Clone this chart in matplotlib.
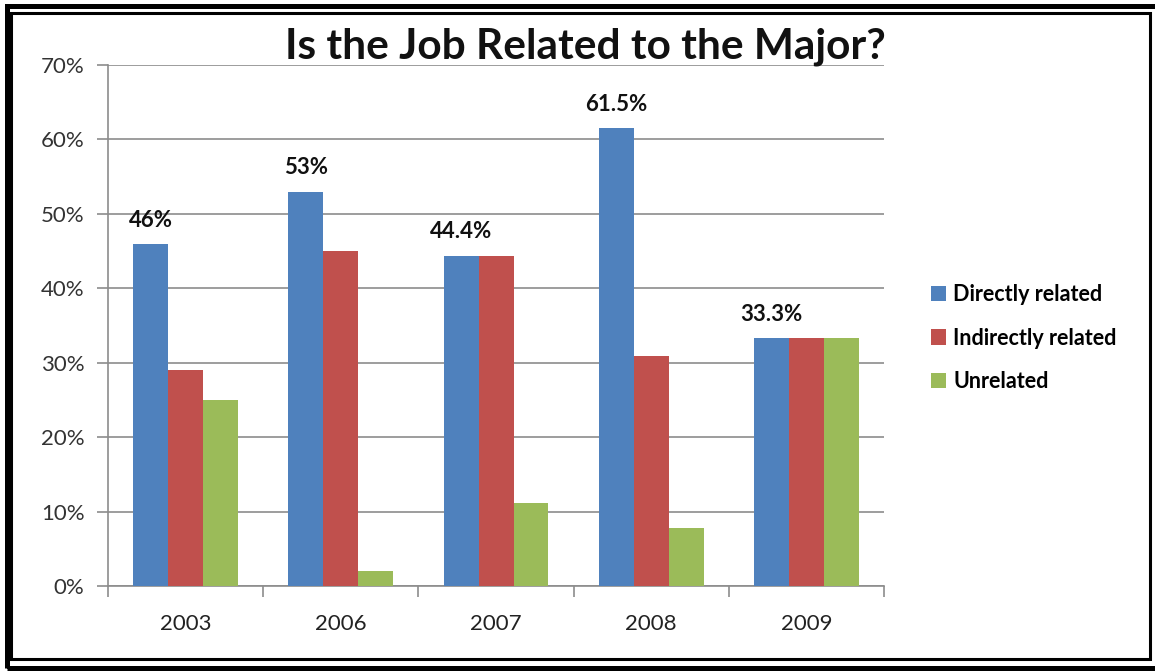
import matplotlib.pyplot as plt
import numpy as np
from matplotlib.patches import Rectangle

years = ["2003", "2006", "2007", "2008", "2009"]
direct = [46, 53, 44.4, 61.5, 33.3]
indirect = [29, 45, 44.4, 30.9, 33.3]
unrelated = [25, 2, 11.2, 7.8, 33.3]
direct_labels = ["46%", "53%", "44.4%", "61.5%", "33.3%"]
series_names = ["Directly related", "Indirectly related", "Unrelated"]

colors = ["#4F81BD", "#C0504D", "#9BBB59"]
plt.rcParams['font.family'] = ['Lato', 'DejaVu Sans']

fig = plt.figure(figsize=(11.55, 6.71), dpi=100)
ax = fig.add_axes([0.0935, 0.1267, 0.672, 0.7764])

x = np.arange(len(years))
w = 0.225
for i, vals in enumerate([direct, indirect, unrelated]):
    ax.bar(x + (i - 1) * w, vals, w, color=colors[i], label=series_names[i], zorder=3)

# labels above the directly related bars
for xi, v, lab in zip(x, direct, direct_labels):
    ax.annotate(lab, (xi - w, v), xytext=(0, 17), textcoords="offset points",
                ha="center", va="center", fontsize=16, fontweight="bold", color="#111111")

ax.set_xlim(-0.5, len(years) - 0.5)
ax.set_ylim(0, 70)
ax.set_yticks(np.arange(0, 71, 10))
ax.set_yticklabels([f"{t}%" for t in range(0, 71, 10)])
ax.yaxis.grid(True, color="#8c8c8c", linewidth=1.2, zorder=0)
ax.set_xticks(x)
ax.set_xticklabels(years)
ax.set_xticks(np.arange(-0.5, len(years), 1), minor=True)
ax.tick_params(axis="x", which="major", length=0, pad=20, labelsize=16, colors="#222222")
ax.tick_params(axis="x", which="minor", length=8, color="#8c8c8c", width=1.2)
ax.tick_params(axis="y", length=8, color="#8c8c8c", width=1.2, labelsize=16, labelcolor="#333333", pad=9)
for s in ["top", "right"]:
    ax.spines[s].set_visible(False)
for s in ["left", "bottom"]:
    ax.spines[s].set_color("#8c8c8c")
    ax.spines[s].set_linewidth(1.2)

fig.text(0.507, 0.93, "Is the Job Related to the Major?", ha="center", va="center",
         fontsize=30.5, fontweight="bold", color="#111111")

ax.legend(loc="center left", bbox_to_anchor=(1.035, 0.476), frameon=False,
          prop={"size": 15.5, "weight": "bold"},
          handlelength=0.7, handleheight=0.7, handletextpad=0.35, labelspacing=1.05)

# double frame around the picture
fig.patches.append(Rectangle((0.0061, 0.0045), 1.0, 0.986, transform=fig.transFigure,
                             fill=False, edgecolor="black", linewidth=3.6))
fig.patches.append(Rectangle((0.0095, 0.0186), 0.9862, 0.962, transform=fig.transFigure,
                             fill=False, edgecolor="black", linewidth=2.2))

fig.savefig("out.png", dpi=100)
